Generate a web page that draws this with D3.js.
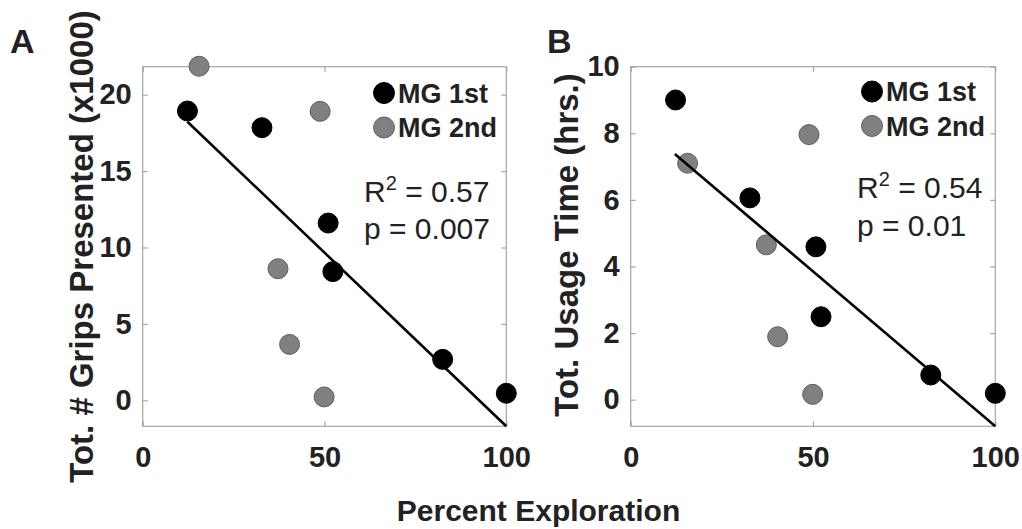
<!DOCTYPE html>
<html>
<head>
<meta charset="utf-8">
<script src="https://cdn.jsdelivr.net/npm/d3@7"></script>
<style>
  html, body { margin: 0; padding: 0; background: #fff; }
  svg { display: block; }
  text { font-family: "Liberation Sans", Arial, sans-serif; fill: #222; }
</style>
</head>
<body>
<svg id="chart" width="1022" height="529"></svg>
<script>
// ---- data ----
const xTicks = [0, 50, 100];
const yTicksA = [0, 5, 10, 15, 20];
const yTicksB = [0, 2, 4, 6, 8, 10];
const seriesNames = ["MG 1st", "MG 2nd"];

const aFirstX  = [12.3, 32.8, 51.0, 52.3, 82.5, 100];
const aFirstY  = [18.93, 17.84, 11.60, 8.42, 2.68, 0.46];
const aSecondX = [15.5, 48.8, 37.2, 40.4, 49.9];
const aSecondY = [21.86, 18.91, 8.61, 3.66, 0.22];
const aFitX = [12.3, 100];
const aFitY = [18.23, -1.70];

const bFirstX  = [12.3, 32.7, 50.8, 52.2, 82.3, 100];
const bFirstY  = [9.0, 6.06, 4.59, 2.49, 0.74, 0.19];
const bSecondX = [15.6, 48.9, 37.2, 40.3, 49.9];
const bSecondY = [7.10, 7.96, 4.65, 1.89, 0.16];
const bFitX = [12.1, 100];
const bFitY = [7.38, -0.80];

const panelLetters = ["A", "B"];
const yLabels = ["Tot. # Grips Presented (x1000)", "Tot. Usage Time (hrs.)"];
const xLabel = "Percent Exploration";
const r2Text = ["0.57", "0.54"];
const pText = ["0.007", "0.01"];

// ---- layout ----
const svg = d3.select("#chart");
const colors = { first: "#000000", second: "#808080" };
const strokes = { first: "#000000", second: "#5e5e5e" };
const boxColor = "#a6a6a6";

const panels = [
  { left: 142.7, right: 506.3, yDomain: [-1.70, 21.83], yTicks: yTicksA,
    fx: aFirstX, fy: aFirstY, sx: aSecondX, sy: aSecondY, lx: aFitX, ly: aFitY,
    letter: { x: 10, y: 53 }, ylab: { x: 93, y: 246.5 },
    leg: { mx: 384, tx: 398, y1: 102.5, y2: 137 },
    stat: { x: 364, y1: 201.5, y2: 239 } },
  { left: 630.7, right: 995.3, yDomain: [-0.80, 10], yTicks: yTicksB,
    fx: bFirstX, fy: bFirstY, sx: bSecondX, sy: bSecondY, lx: bFitX, ly: bFitY,
    letter: { x: 547, y: 53 }, ylab: { x: 578, y: 245 },
    leg: { mx: 872, tx: 886, y1: 101, y2: 135.5 },
    stat: { x: 857, y1: 197.5, y2: 235.5 } }
];
const plotTop = 66.7, plotBottom = 426.3;
const R = 10;

panels.forEach((p, i) => {
  const x = d3.scaleLinear().domain([0, 100]).range([p.left, p.right]);
  const y = d3.scaleLinear().domain(p.yDomain).range([plotBottom, plotTop]);
  const g = svg.append("g");

  // box
  g.append("rect")
    .attr("x", p.left).attr("y", plotTop)
    .attr("width", p.right - p.left).attr("height", plotBottom - plotTop)
    .attr("fill", "none").attr("stroke", boxColor).attr("stroke-width", 1.2);

  const styleAxis = (sel, showText) => {
    sel.select(".domain").remove();
    sel.selectAll(".tick line").attr("stroke", boxColor).attr("stroke-width", 1.2);
    sel.selectAll(".tick text")
      .style("font-size", "29px").style("font-weight", "bold")
      .attr("fill", "#222");
    if (!showText) sel.selectAll(".tick text").remove();
  };

  // axes
  g.append("g").attr("transform", `translate(${p.left},0)`)
    .call(d3.axisLeft(y).tickValues(p.yTicks).tickFormat(d3.format("d")).tickSizeInner(-5).tickSizeOuter(0).tickPadding(11))
    .call(s => styleAxis(s, true));
  g.append("g").attr("transform", `translate(${p.right},0)`)
    .call(d3.axisRight(y).tickValues(p.yTicks).tickSizeInner(-5).tickSizeOuter(0))
    .call(s => styleAxis(s, false));
  g.append("g").attr("transform", `translate(0,${plotBottom})`)
    .call(d3.axisBottom(x).tickValues(xTicks).tickFormat(d3.format("d")).tickSizeInner(-5).tickSizeOuter(0).tickPadding(20))
    .call(s => styleAxis(s, true));
  g.append("g").attr("transform", `translate(0,${plotTop})`)
    .call(d3.axisTop(x).tickValues(xTicks).tickSizeInner(-5).tickSizeOuter(0))
    .call(s => styleAxis(s, false));

  // markers
  const first = p.fx.map((v, k) => ({ x: v, y: p.fy[k] }));
  const second = p.sx.map((v, k) => ({ x: v, y: p.sy[k] }));
  g.append("g").selectAll("circle").data(second).join("circle")
    .attr("cx", d => x(d.x)).attr("cy", d => y(d.y)).attr("r", R)
    .attr("fill", colors.second).attr("stroke", strokes.second).attr("stroke-width", 1);
  g.append("g").selectAll("circle").data(first).join("circle")
    .attr("cx", d => x(d.x)).attr("cy", d => y(d.y)).attr("r", R)
    .attr("fill", colors.first).attr("stroke", strokes.first).attr("stroke-width", 1);

  // fit line
  const fit = p.lx.map((v, k) => [v, p.ly[k]]);
  g.append("path").datum(fit)
    .attr("d", d3.line().x(d => x(d[0])).y(d => y(d[1])))
    .attr("fill", "none").attr("stroke", "#000").attr("stroke-width", 2.6);

  // legend
  const leg = g.append("g");
  [["first", p.leg.y1], ["second", p.leg.y2]].forEach(([key, ty], k) => {
    leg.append("circle").attr("cx", p.leg.mx).attr("cy", ty - 9.5).attr("r", 10.5)
      .attr("fill", colors[key]).attr("stroke", strokes[key]);
    leg.append("text").attr("x", p.leg.tx).attr("y", ty)
      .style("font-size", "27px").style("font-weight", "bold").attr("fill", "#111")
      .text(seriesNames[k]);
  });

  // stats
  const st = g.append("text").attr("x", p.stat.x).attr("y", p.stat.y1)
    .style("font-size", "30px").attr("fill", "#111");
  st.append("tspan").text("R");
  st.append("tspan").attr("dy", -12).style("font-size", "20px").text("2");
  st.append("tspan").attr("dy", 12).text(" = " + r2Text[i]);
  g.append("text").attr("x", p.stat.x).attr("y", p.stat.y2)
    .style("font-size", "30px").attr("fill", "#111")
    .text("p = " + pText[i]);

  // y label
  g.append("text")
    .attr("transform", `translate(${p.ylab.x},${p.ylab.y}) rotate(-90)`)
    .attr("text-anchor", "middle")
    .style("font-size", "33px").style("font-weight", "bold").attr("fill", "#222")
    .text(yLabels[i]);

  // panel letter
  g.append("text").attr("x", p.letter.x).attr("y", p.letter.y)
    .style("font-size", "34px").style("font-weight", "bold").attr("fill", "#000")
    .text(panelLetters[i]);
});

// x label
svg.append("text").attr("x", 538.5).attr("y", 521).attr("text-anchor", "middle")
  .style("font-size", "30px").style("font-weight", "bold").attr("fill", "#222")
  .text(xLabel);
</script>
</body>
</html>
